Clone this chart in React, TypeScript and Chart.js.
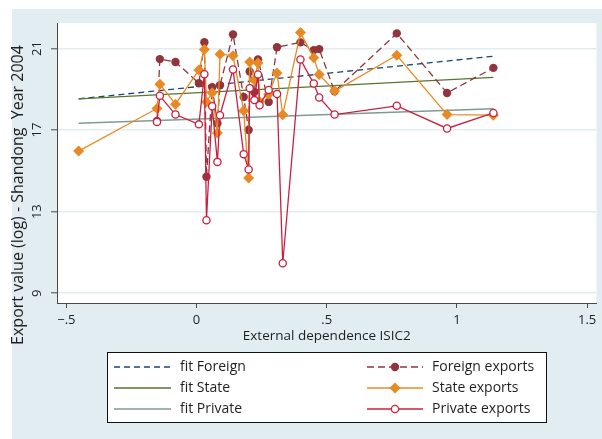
import React, { useEffect, useRef } from "react";
import { Chart, registerables } from "chart.js";

Chart.register(...registerables);

// ---- data ----
const xValues = [
  -0.453, -0.152, -0.141, -0.081, 0.009, 0.03, 0.038, 0.06, 0.08, 0.09, 0.14,
  0.181, 0.2, 0.204, 0.222, 0.236, 0.242, 0.277, 0.309, 0.331, 0.399, 0.45,
  0.471, 0.53, 0.769, 0.962, 1.14,
];
const foreignExports = [
  null, 17.45, 20.48, 20.34, 19.3, 21.31, 14.71, 19.1, 17.33, 19.2, 21.69,
  18.62, 17.0, 19.87, 18.87, 20.46, null, 18.38, 21.06, null, 21.3, 20.92,
  20.97, 18.9, 21.74, 18.82, 20.05,
];
const stateExports = [
  15.97, 18.06, 19.25, 18.27, 19.95, 20.95, 18.38, 18.83, 16.85, 20.72, 20.65,
  17.95, 14.65, 20.34, 19.45, 20.29, 18.4, 18.76, 19.8, 17.75, 21.78, 20.54,
  19.73, 18.91, 20.67, 17.76, 17.73,
];
const privateExports = [
  null, 17.4, 18.68, 17.76, 17.28, 19.74, 12.58, 18.17, 15.44, 17.73, 19.97,
  15.82, 15.07, 19.05, 18.47, 19.73, 18.22, 18.97, 18.77, 10.47, 20.46, 19.28,
  18.6, 17.76, 18.19, 17.08, 17.84,
];
const fitX = [-0.453, 1.14];
const fitForeign = [18.53, 20.62];
const fitState = [18.53, 19.58];
const fitPrivate = [17.34, 18.04];

const xTicks = [-0.5, 0, 0.5, 1, 1.5];
const xTickLabels = ["\u2212.5", "0", ".5", "1", "1.5"];
const yTicks = [9, 13, 17, 21];
const yTickLabels = ["9", "13", "17", "21"];

const xTitle = "External dependence ISIC2";
const yTitle = "Export value (log) - Shandong  Year 2004";

// ---- styles ----
const W = 602;
const H = 439;
const BG = "#e1edf0";
const FONT = '"Open Sans", "DejaVu Sans", sans-serif';
const TEXT = "#1f1f1f";
const AXIS = "#4a4a4a";
const NAVY = "#1a476f";
const MAROON = "#90353b";
const GREEN = "#55752f";
const ORANGE = "#e88a24";
const TEAL = "#7f9a94";
const CRAN = "#c8203f";

const toPoints = (xs: number[], ys: (number | null)[]) =>
  xs.map((x, i) => ({ x, y: ys[i] }));

function drawMarker(ctx: CanvasRenderingContext2D, kind: string, x: number, y: number) {
  ctx.save();
  if (kind === "circle") {
    ctx.fillStyle = MAROON;
    ctx.beginPath();
    ctx.arc(x, y, 4.2, 0, Math.PI * 2);
    ctx.fill();
  } else if (kind === "diamond") {
    ctx.fillStyle = ORANGE;
    ctx.beginPath();
    ctx.moveTo(x - 5.5, y);
    ctx.lineTo(x, y - 5.5);
    ctx.lineTo(x + 5.5, y);
    ctx.lineTo(x, y + 5.5);
    ctx.closePath();
    ctx.fill();
  } else if (kind === "hollow") {
    ctx.fillStyle = "#fff";
    ctx.strokeStyle = CRAN;
    ctx.lineWidth = 1.3;
    ctx.beginPath();
    ctx.arc(x, y, 3.6, 0, Math.PI * 2);
    ctx.fill();
    ctx.stroke();
  }
  ctx.restore();
}

const stataPlugin = {
  id: "stataLook",
  beforeDraw(chart: any) {
    const { ctx, chartArea: a } = chart;
    ctx.save();
    ctx.fillStyle = "#ffffff";
    ctx.fillRect(0, 0, W, H);
    ctx.fillStyle = BG;
    ctx.fillRect(12, 9, W - 12, H - 9);
    ctx.fillStyle = "#ffffff";
    ctx.fillRect(a.left, a.top, a.right - a.left, a.bottom - a.top);
    ctx.restore();
  },
  afterDraw(chart: any) {
    const { ctx, chartArea: a } = chart;
    const ys = chart.scales.y;
    ctx.save();
    ctx.fillStyle = TEXT;
    ctx.font = `13px ${FONT}`;
    ctx.textAlign = "center";
    ctx.textBaseline = "alphabetic";
    yTicks.forEach((v, i) => {
      const py = ys.getPixelForValue(v);
      ctx.save();
      ctx.translate(40.5, py);
      ctx.rotate(-Math.PI / 2);
      ctx.fillText(yTickLabels[i], 0, 0);
      ctx.restore();
    });
    // axis titles
    ctx.textBaseline = "middle";
    ctx.font = `16px ${FONT}`;
    ctx.save();
    ctx.translate(18, 195);
    ctx.rotate(-Math.PI / 2);
    ctx.fillText(yTitle, 0, 0);
    ctx.restore();
    ctx.font = `13.5px ${FONT}`;
    ctx.fillText(xTitle, (a.left + a.right) / 2, 336);

    // legend box
    const bx = 107.5, by = 352.5, bw = 439, bh = 70;
    ctx.fillStyle = "#ffffff";
    ctx.fillRect(bx, by, bw, bh);
    ctx.strokeStyle = "#111";
    ctx.lineWidth = 1;
    ctx.strokeRect(bx, by, bw, bh);

    const rows = [367, 388, 409];
    const left = [
      { label: "fit Foreign", color: NAVY, dash: [6, 4], width: 1.3 },
      { label: "fit State", color: GREEN, dash: [], width: 1.3 },
      { label: "fit Private", color: TEAL, dash: [], width: 1.5 },
    ];
    const right = [
      { label: "Foreign exports", color: MAROON, dash: [7, 4], width: 1.3, marker: "circle" },
      { label: "State exports", color: ORANGE, dash: [], width: 1.3, marker: "diamond" },
      { label: "Private exports", color: CRAN, dash: [], width: 1.3, marker: "hollow" },
    ];
    ctx.font = `14px ${FONT}`;
    ctx.textAlign = "left";
    ctx.textBaseline = "middle";
    left.forEach((e, i) => {
      const y = rows[i];
      ctx.strokeStyle = e.color;
      ctx.lineWidth = e.width;
      ctx.setLineDash(e.dash);
      ctx.beginPath();
      ctx.moveTo(114, y);
      ctx.lineTo(171, y);
      ctx.stroke();
      ctx.setLineDash([]);
      ctx.fillStyle = TEXT;
      ctx.fillText(e.label, 180, y);
    });
    right.forEach((e, i) => {
      const y = rows[i];
      ctx.strokeStyle = e.color;
      ctx.lineWidth = e.width;
      ctx.setLineDash(e.dash);
      ctx.beginPath();
      ctx.moveTo(367, y);
      ctx.lineTo(423, y);
      ctx.stroke();
      ctx.setLineDash([]);
      drawMarker(ctx, e.marker, 395, y);
      ctx.fillStyle = TEXT;
      ctx.fillText(e.label, 432, y);
    });
    ctx.restore();
  },
};

export default function App() {
  const ref = useRef<HTMLCanvasElement | null>(null);

  useEffect(() => {
    if (!ref.current) return;
    const chart = new Chart(ref.current, {
      type: "line",
      data: {
        datasets: [
          {
            label: "Private exports",
            data: toPoints(xValues, privateExports),
            borderColor: CRAN,
            borderWidth: 1.3,
            pointStyle: "circle",
            pointRadius: 3.6,
            pointBorderWidth: 1.3,
            pointBorderColor: CRAN,
            pointBackgroundColor: "#ffffff",
            spanGaps: true,
            order: 0,
          },
          {
            label: "State exports",
            data: toPoints(xValues, stateExports),
            borderColor: ORANGE,
            borderWidth: 1.3,
            pointStyle: "rectRot",
            pointRadius: 5.5,
            pointBorderWidth: 0,
            pointBackgroundColor: ORANGE,
            spanGaps: true,
            order: 1,
          },
          {
            label: "Foreign exports",
            data: toPoints(xValues, foreignExports),
            borderColor: MAROON,
            borderWidth: 1.3,
            borderDash: [7, 4],
            pointStyle: "circle",
            pointRadius: 4.2,
            pointBorderWidth: 0,
            pointBackgroundColor: MAROON,
            spanGaps: true,
            order: 2,
          },
          {
            label: "fit Private",
            data: toPoints(fitX, fitPrivate),
            borderColor: TEAL,
            borderWidth: 1.5,
            pointRadius: 0,
            order: 3,
          },
          {
            label: "fit State",
            data: toPoints(fitX, fitState),
            borderColor: GREEN,
            borderWidth: 1.3,
            pointRadius: 0,
            order: 4,
          },
          {
            label: "fit Foreign",
            data: toPoints(fitX, fitForeign),
            borderColor: NAVY,
            borderWidth: 1.3,
            borderDash: [6, 4],
            pointRadius: 0,
            order: 5,
          },
        ],
      },
      options: {
        animation: false,
        responsive: false,
        devicePixelRatio: 1,
        layout: { padding: { top: 23, right: 5, left: 0, bottom: 0 } },
        plugins: {
          legend: { display: false },
          tooltip: { enabled: false },
          title: { display: false },
        },
        elements: { line: { tension: 0 } },
        scales: {
          x: {
            type: "linear",
            min: -0.536,
            max: 1.536,
            afterBuildTicks: (s: any) => {
              s.ticks = xTicks.map((v) => ({ value: v }));
            },
            afterFit: (s: any) => {
              s.height = H - 303;
            },
            ticks: {
              callback: (v: any) => {
                const i = xTicks.findIndex((t) => Math.abs(t - Number(v)) < 1e-9);
                return i >= 0 ? xTickLabels[i] : "";
              },
              font: { family: FONT, size: 13 },
              color: TEXT,
              padding: 4,
              maxRotation: 0,
              minRotation: 0,
            },
            grid: {
              drawOnChartArea: false,
              drawTicks: true,
              tickLength: 5,
              tickColor: AXIS,
              tickWidth: 1,
            },
            border: { display: true, color: AXIS, width: 1 },
          },
          y: {
            type: "linear",
            min: 8.52,
            max: 22.25,
            afterBuildTicks: (s: any) => {
              s.ticks = yTicks.map((v) => ({ value: v }));
            },
            afterFit: (s: any) => {
              s.width = 57;
            },
            ticks: { display: false },
            grid: {
              drawOnChartArea: true,
              color: "#e2edf0",
              lineWidth: 1.6,
              drawTicks: true,
              tickLength: 6,
              tickColor: AXIS,
              tickWidth: 1,
            },
            border: { display: true, color: AXIS, width: 1 },
          },
        },
      },
      plugins: [stataPlugin],
    } as any);
    return () => chart.destroy();
  }, []);

  return (
    <div style={{ position: "absolute", left: 0, top: 0, width: W, height: H }}>
      <canvas ref={ref} width={W} height={H} style={{ width: W, height: H, display: "block" }} />
    </div>
  );
}
